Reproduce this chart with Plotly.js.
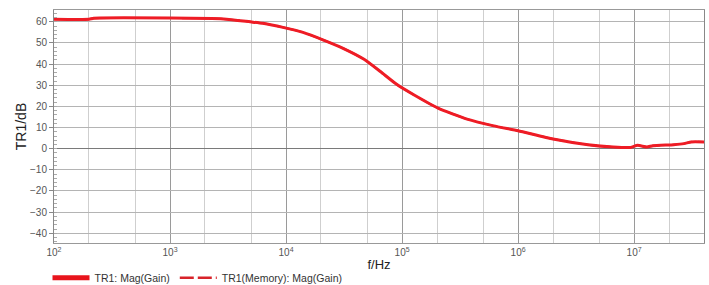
<!DOCTYPE html>
<html>
<head>
<meta charset="utf-8">
<script src="https://cdn.plot.ly/plotly-3.0.1.min.js"></script>
<style>html,body{margin:0;padding:0;background:#fff;}#chart{width:709px;height:285px;}</style>
</head>
<body>
<div id="chart"></div>
<script>
const freqHz = [100, 200, 220, 1000, 2900, 4900, 6300, 9400, 14000, 21000, 31000, 47000, 65000, 91000, 126000, 204000, 363000, 617000, 1000000, 2000000, 4000000, 6600000, 9300000, 10700000, 12900000, 14500000, 21900000, 26900000, 31000000, 40000000];
const gainDb = [61.2, 61.2, 61.7, 61.8, 61.4, 60.0, 59.3, 57.4, 55.0, 51.4, 47.5, 42.3, 36.5, 30.2, 25.5, 19.2, 14.0, 10.8, 8.5, 4.6, 1.9, 0.8, 0.6, 1.6, 0.8, 1.4, 1.9, 2.4, 3.2, 3.2];
const xTickVals = [100, 1000, 10000, 100000, 1000000, 10000000];
const xTickText = ['10<sup>2</sup>', '10<sup>3</sup>', '10<sup>4</sup>', '10<sup>5</sup>', '10<sup>6</sup>', '10<sup>7</sup>'];
const yTickVals = [60, 50, 40, 30, 20, 10, 0, -10, -20, -30, -40];
const seriesNames = ['TR1: Mag(Gain)', 'TR1(Memory): Mag(Gain)'];

const traces = [
  // memory trace (drawn beneath, coincides with live trace)
  {x: freqHz, y: gainDb, name: seriesNames[1], type: 'scatter', mode: 'lines', showlegend: false,
   line: {color: '#d8232a', width: 2, dash: '26px,6px', shape: 'spline', smoothing: 0.5}},
  // live trace
  {x: freqHz, y: gainDb, name: seriesNames[0], type: 'scatter', mode: 'lines', showlegend: false,
   line: {color: '#ee1c25', width: 3, shape: 'spline', smoothing: 0.5}},
  // legend entries
  {x: [null], y: [null], name: seriesNames[0], type: 'scatter', mode: 'lines',
   line: {color: '#e8141c', width: 5}},
  {x: [null], y: [null], name: seriesNames[1], type: 'scatter', mode: 'lines',
   line: {color: '#d8232a', width: 2.5, dash: '14px,4px'}}
];

const layout = {
  width: 709, height: 285,
  margin: {l: 54, r: 5, t: 10, b: 42, autoexpand: false},
  paper_bgcolor: '#fff', plot_bgcolor: '#fff',
  font: {family: 'Liberation Sans, Arial, sans-serif', size: 10, color: '#444'},
  showlegend: true,
  legend: {orientation: 'h', x: -0.01, xanchor: 'left', y: -0.087, yanchor: 'top',
           font: {size: 10.5, color: '#333'}, traceorder: 'normal', itemwidth: 37},
  xaxis: {
    type: 'log', range: [2, Math.log10(40000000)],
    tickvals: xTickVals, ticktext: xTickText,
    tickfont: {size: 10, color: '#555'},
    showgrid: true, gridcolor: '#9a9a9a', gridwidth: 1,
    minor: {showgrid: true, gridcolor: '#cfcfcf', gridwidth: 1, ticks: ''},
    ticks: '', showline: true, linecolor: '#999', mirror: true, zeroline: false,
    title: {text: 'f/Hz', font: {size: 13, color: '#222'}, standoff: 2},
    automargin: false,
    fixedrange: true
  },
  yaxis: {
    range: [-44.6, 65.6],
    tickvals: yTickVals,
    tickfont: {size: 10, color: '#555'},
    showgrid: true, gridcolor: '#b4b4b4', gridwidth: 1,
    zeroline: true, zerolinecolor: '#7a7a7a', zerolinewidth: 1.5,
    ticks: 'outside', ticklen: 4, tickcolor: '#888',
    minor: {dtick: 2, ticks: 'inside', ticklen: 3, tickcolor: '#aaa', showgrid: false},
    showline: true, linecolor: '#888', mirror: true,
    title: {text: 'TR1/dB', font: {size: 14, color: '#222'}, standoff: 0},
    automargin: false,
    fixedrange: true
  }
};

Plotly.newPlot('chart', traces, layout, {displayModeBar: false, staticPlot: true});
</script>
</body>
</html>
